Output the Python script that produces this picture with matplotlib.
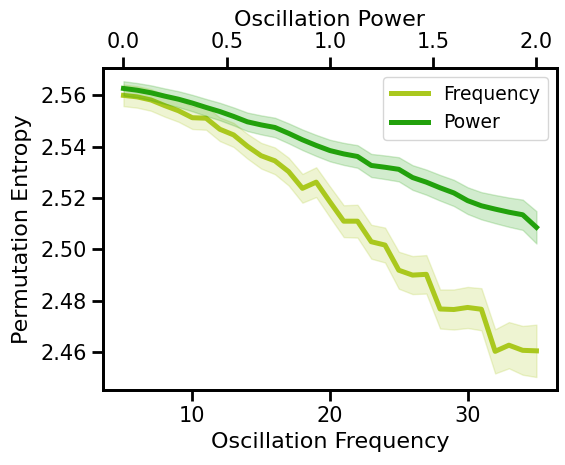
import numpy as np
import matplotlib
matplotlib.use("Agg")
import matplotlib.pyplot as plt

# oscillation frequency sweep (bottom axis) and power sweep (top axis)
freqs = np.arange(5, 36)
powers = np.linspace(0, 2, 31)

freq_pe = [2.5600, 2.5594, 2.5582, 2.5560, 2.5540, 2.5513, 2.5511, 2.5468, 2.5446, 2.5402,
           2.5365, 2.5345, 2.5303, 2.5238, 2.5262, 2.5185, 2.5110, 2.5110, 2.5030, 2.5017,
           2.4919, 2.4900, 2.4903, 2.4768, 2.4766, 2.4774, 2.4767, 2.4603, 2.4627, 2.4607,
           2.4605]
freq_err = [0.0042, 0.0042, 0.0042, 0.0043, 0.0043, 0.0044, 0.0045, 0.0046, 0.0047, 0.0048,
            0.0050, 0.0052, 0.0054, 0.0056, 0.0058, 0.0060, 0.0062, 0.0064, 0.0066, 0.0068,
            0.0072, 0.0074, 0.0075, 0.0076, 0.0078, 0.0080, 0.0082, 0.0086, 0.0090, 0.0095,
            0.0102]

pow_pe = [2.5627, 2.5620, 2.5610, 2.5597, 2.5585, 2.5570, 2.5553, 2.5537, 2.5518, 2.5497,
          2.5485, 2.5475, 2.5452, 2.5427, 2.5405, 2.5385, 2.5372, 2.5362, 2.5327, 2.5320,
          2.5312, 2.5280, 2.5262, 2.5240, 2.5220, 2.5190, 2.5170, 2.5157, 2.5145, 2.5135,
          2.5086]
pow_err = [0.0028, 0.0028, 0.0029, 0.0030, 0.0031, 0.0032, 0.0033, 0.0034, 0.0035, 0.0036,
           0.0037, 0.0038, 0.0039, 0.0040, 0.0041, 0.0042, 0.0043, 0.0044, 0.0045, 0.0046,
           0.0047, 0.0048, 0.0049, 0.0050, 0.0051, 0.0052, 0.0053, 0.0055, 0.0057, 0.0059,
           0.0063]

freq_color = "#aac81e"
pow_color = "#22a10c"

plt.rcParams.update({
    "font.family": ["DejaVu Sans"],
    "axes.linewidth": 2.0,
    "xtick.major.width": 2.0,
    "ytick.major.width": 2.0,
    "xtick.major.size": 8,
    "ytick.major.size": 8,
    "xtick.labelsize": 15,
    "ytick.labelsize": 15,
    "axes.labelsize": 16,
    "legend.fontsize": 13.5,
})

fig = plt.figure(figsize=(5.65, 4.65), dpi=100)
ax = fig.add_axes([0.182, 0.161, 0.804, 0.693])

freq_pe = np.array(freq_pe)
freq_err = np.array(freq_err)
pow_pe = np.array(pow_pe)
pow_err = np.array(pow_err)

l1, = ax.plot(freqs, freq_pe, color=freq_color, lw=3.6, label="Frequency")
ax.fill_between(freqs, freq_pe - freq_err, freq_pe + freq_err, color=freq_color, alpha=0.2)
ax.set_xlabel("Oscillation Frequency")
ax.set_ylabel("Permutation Entropy", labelpad=6)
ax.set_xticks([10, 20, 30])
ax.set_yticks([2.46, 2.48, 2.50, 2.52, 2.54, 2.56])

ax2 = ax.twiny()
l2, = ax2.plot(powers, pow_pe, color=pow_color, lw=3.6, label="Power")
ax2.fill_between(powers, pow_pe - pow_err, pow_pe + pow_err, color=pow_color, alpha=0.2)
ax2.set_xlabel("Oscillation Power")
ax2.set_xticks([0.0, 0.5, 1.0, 1.5, 2.0])

ax.set_xlim(3.5, 36.5)
ax2.set_xlim(-0.1, 2.1)
ax.set_ylim(2.4452, 2.5707)

ax2.legend([l1, l2], ["Frequency", "Power"], loc="upper right")

fig.savefig("out.png", dpi=100)
